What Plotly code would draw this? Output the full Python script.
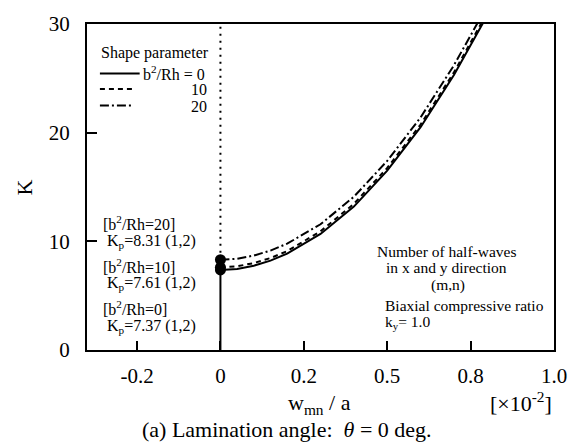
import plotly.graph_objects as go

# ---- data ----
w = [0.0, 0.05, 0.1, 0.15, 0.2, 0.3, 0.4, 0.5, 0.6, 0.7, 0.8]
K_0 = [7.37, 7.46, 7.76, 8.22, 8.87, 10.68, 13.2, 16.5, 20.5, 25.3, 30.8]
K_10 = [7.61, 7.70, 8.00, 8.46, 9.10, 10.92, 13.45, 16.75, 20.75, 25.55, 31.05]
K_20 = [8.31, 8.40, 8.69, 9.15, 9.78, 11.57, 14.1, 17.4, 21.4, 26.2, 31.7]
Kp = [7.37, 7.61, 8.31]
x_tickvals = [-0.25, 0.0, 0.25, 0.5, 0.75, 1.0]
x_ticktext = ["-0.2", "0", "0.2", "0.5", "0.8", "1.0"]
y_tickvals = [0, 10, 20, 30]

W, H = 579, 448
L, R, T, B = 87, 557, 14, 350
FONT = "Liberation Serif"


def px(xp):
    return (xp - L) / (R - L)


def py(yp):
    return (B - yp) / (B - T)


fig = go.Figure()
line_w = 2
fig.add_trace(go.Scatter(x=w, y=K_0, mode="lines", line=dict(color="black", width=line_w)))
fig.add_trace(go.Scatter(x=w, y=K_10, mode="lines", line=dict(color="black", width=line_w, dash="5px,4px")))
fig.add_trace(go.Scatter(x=w, y=K_20, mode="lines", line=dict(color="black", width=line_w, dash="9px,3px,2px,3px")))
# vertical solid line from 0 to first critical load
fig.add_trace(go.Scatter(x=[0, 0], y=[0, Kp[0]], mode="lines", line=dict(color="black", width=line_w)))
# dotted line above
fig.add_trace(go.Scatter(x=[0, 0], y=[Kp[2], 30], mode="lines", line=dict(color="black", width=2, dash="2px,5px")))
fig.add_trace(go.Scatter(x=[0] * len(Kp), y=Kp, mode="markers", marker=dict(color="black", size=11), cliponaxis=False))

fig.update_layout(
    width=W, height=H,
    margin=dict(l=L, r=W - R, t=T, b=H - B),
    paper_bgcolor="white", plot_bgcolor="white",
    showlegend=False,
    font=dict(family=FONT, color="black", size=16),
)
fig.update_xaxes(range=[-0.4, 1.0], tickvals=x_tickvals, ticktext=x_ticktext,
                 ticks="inside", ticklen=9, tickwidth=1.5, tickcolor="black",
                 showline=True, linecolor="black", linewidth=2, mirror=True,
                 showgrid=False, zeroline=False, tickfont=dict(size=21, family=FONT),
                 ticklabelstandoff=6)
fig.update_yaxes(range=[0, 30], tickvals=y_tickvals,
                 ticks="inside", ticklen=10, tickwidth=1.5, tickcolor="black",
                 showline=True, linecolor="black", linewidth=2, mirror=True,
                 showgrid=False, zeroline=False, tickfont=dict(size=21, family=FONT),
                 ticklabelstandoff=11)


def ann(text, x, y, xanchor="left", size=16, **kw):
    fig.add_annotation(text=text, x=px(x), y=py(y), xref="paper", yref="paper",
                       xanchor=xanchor, yanchor="middle", showarrow=False,
                       font=dict(family=FONT, size=size, color="black"), **kw)


# legend box
ann("Shape parameter", 99, 44)
for yy, dash, x2 in [(65, None, 140), (81, "5px,4px", 133), (98, "9px,3px,2px,3px", 133)]:
    fig.add_shape(type="line", xref="paper", yref="paper", x0=px(100), x1=px(x2), y0=py(yy), y1=py(yy),
                  line=dict(color="black", width=2, dash=dash))
ann("b<sup>2</sup>/Rh = 0", 141, 64)
ann("10", 210, 82, xanchor="right")
ann("20", 210, 99, xanchor="right")

# left annotations
ann("[b<sup>2</sup>/Rh=20]", 101, 219, size=16)
ann("K<sub>p</sub>=8.31 (1,2)", 105, 238, size=16)
ann("[b<sup>2</sup>/Rh=10]", 101, 263, size=16)
ann("K<sub>p</sub>=7.61 (1,2)", 105, 281, size=16)
ann("[b<sup>2</sup>/Rh=0]", 101, 307, size=16)
ann("K<sub>p</sub>=7.37 (1,2)", 105, 326, size=16)

# right annotations
ann("Number of half-waves", 449, 248, xanchor="center", size=15.5)
ann("in x and y direction", 449, 265, xanchor="center", size=15.5)
ann("(m,n)", 450, 283, xanchor="center", size=15.5)
ann("Biaxial compressive ratio", 385, 304, size=15.5)
ann("k<sub>y</sub>= 1.0", 385, 322, size=15.5)

# axis titles & caption
ann("w<sub>mn</sub> / a", 321, 406, xanchor="center", size=22)
ann("[×10<sup>-2</sup>]", 524, 404, xanchor="center", size=22)
ann("K", 24, 182, xanchor="center", size=22, textangle=-90)
ann("(a) Lamination angle:  <i>θ</i> = 0 deg.", 288, 432, xanchor="center", size=22)

fig.write_html("out.html")
